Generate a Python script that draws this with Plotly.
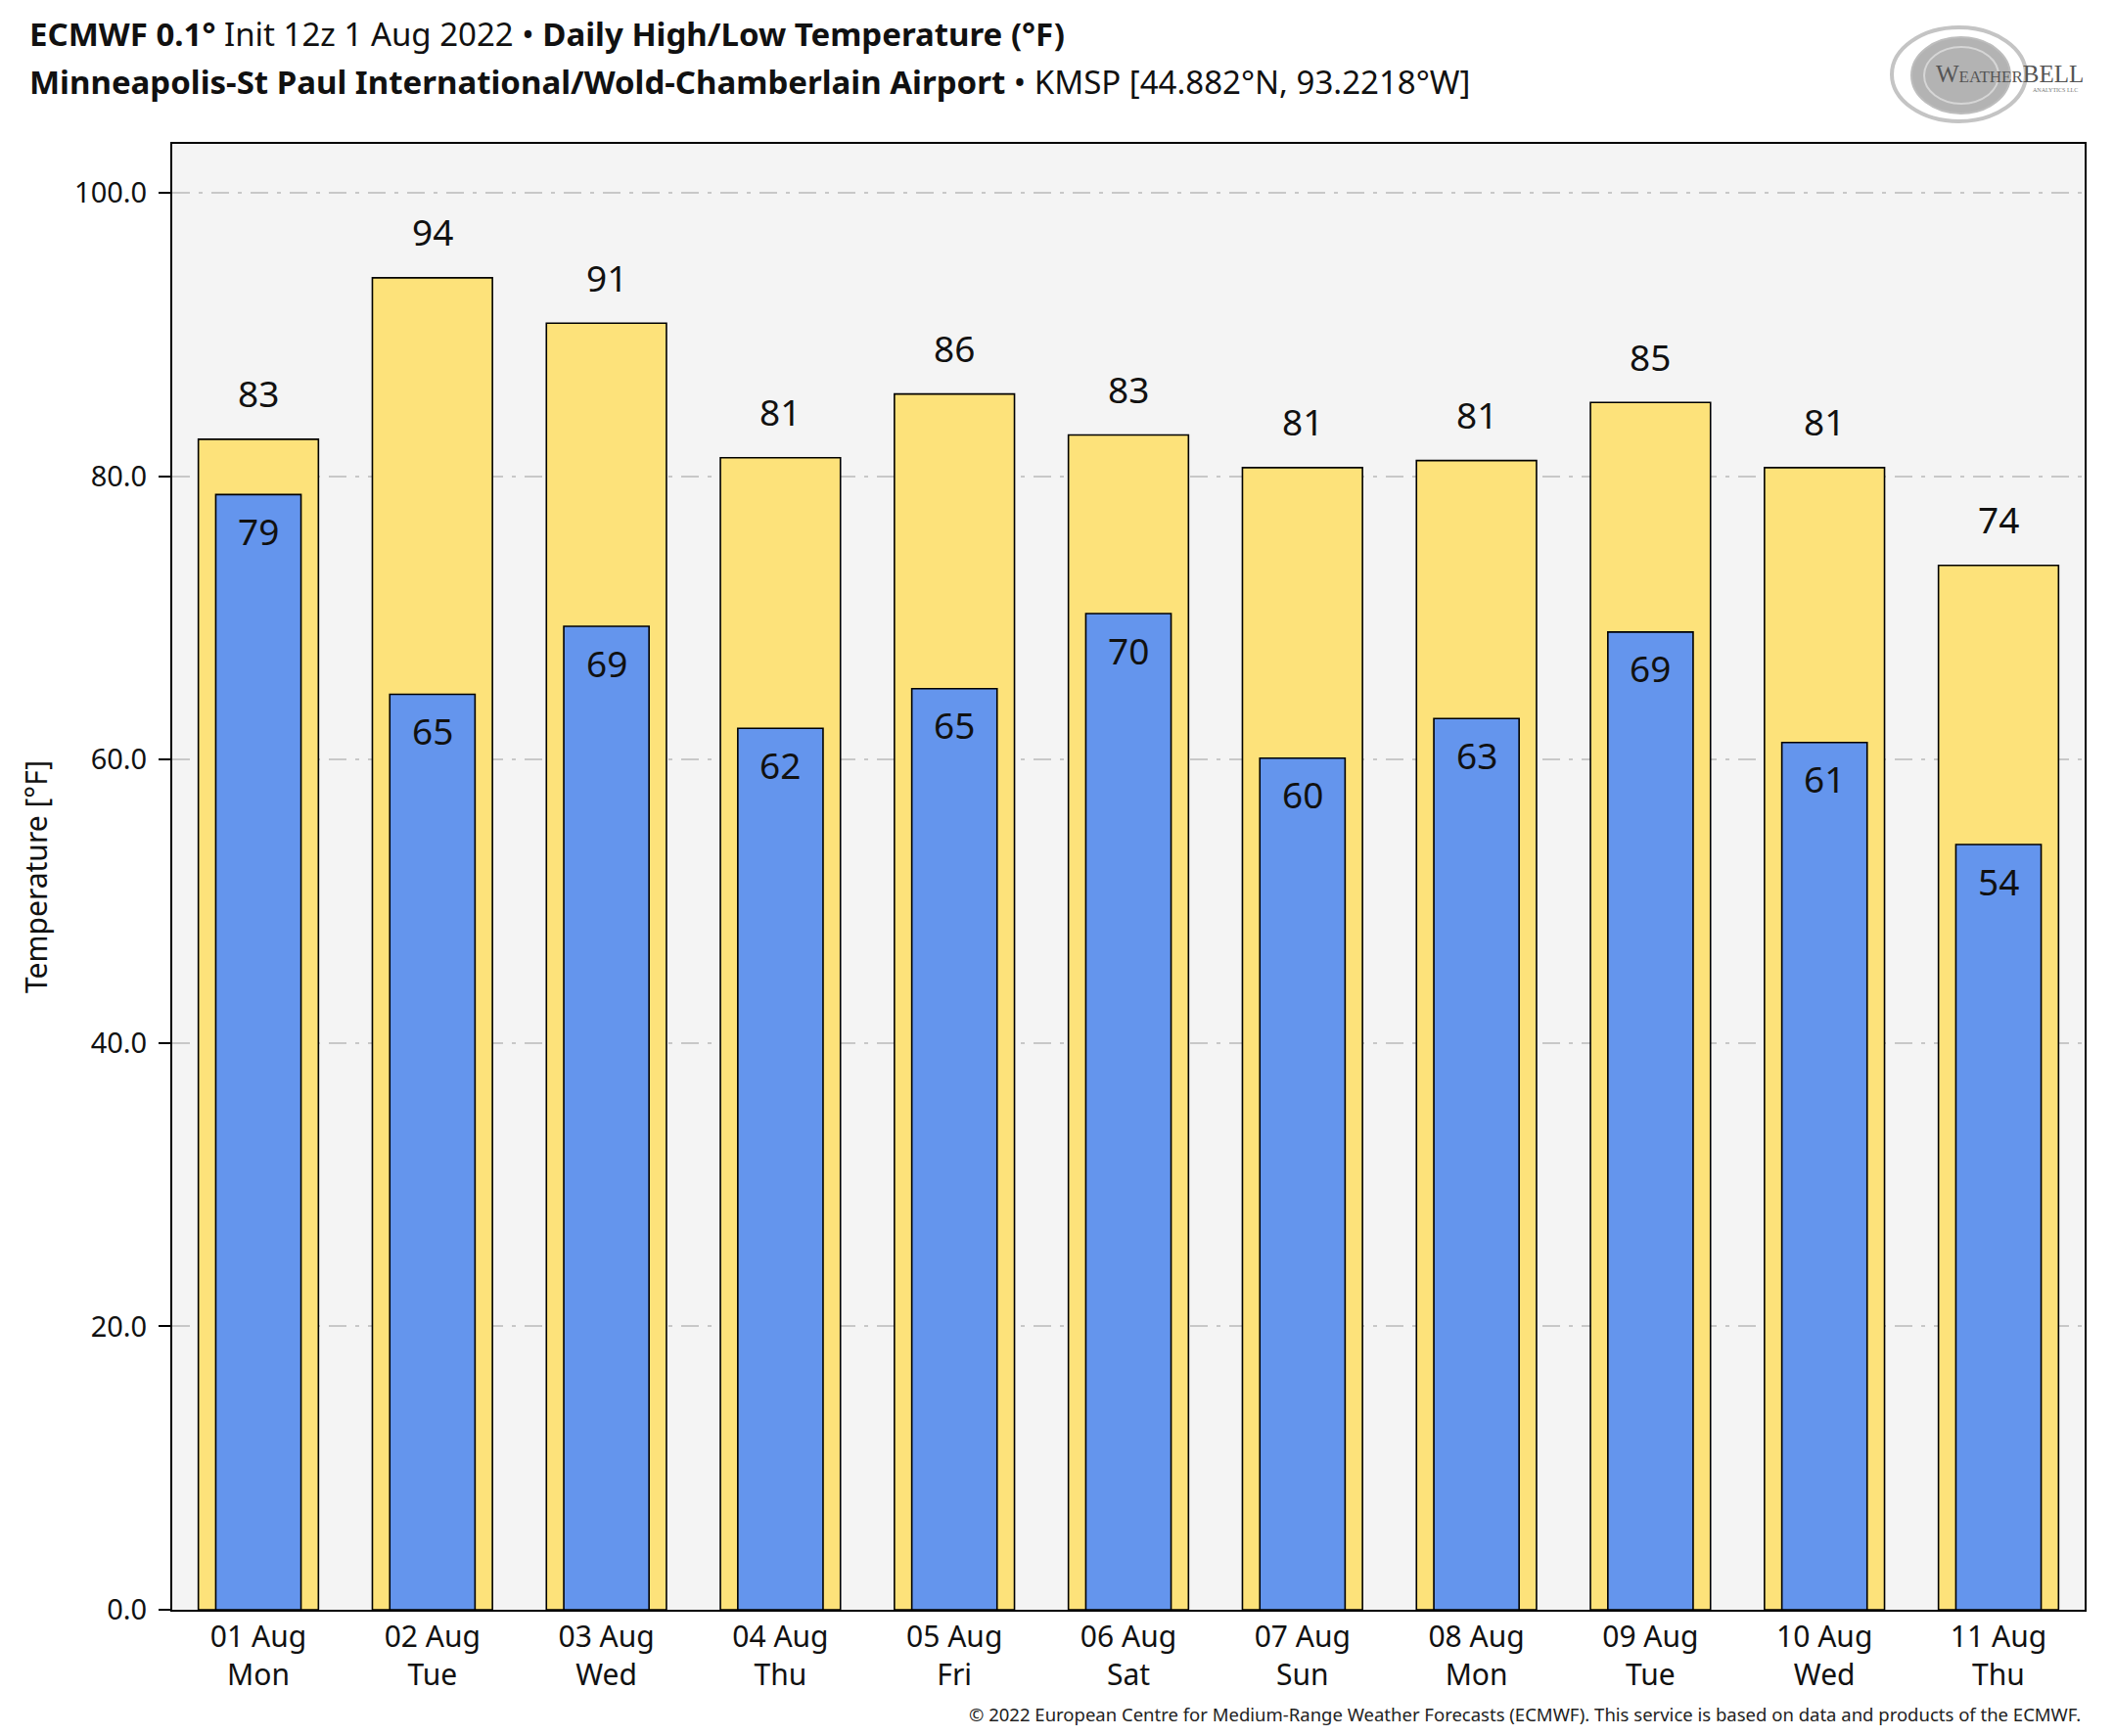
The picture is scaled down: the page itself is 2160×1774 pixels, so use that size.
import plotly.graph_objects as go

# ---- data ----
dates = ["01 Aug", "02 Aug", "03 Aug", "04 Aug", "05 Aug", "06 Aug",
         "07 Aug", "08 Aug", "09 Aug", "10 Aug", "11 Aug"]
weekdays = ["Mon", "Tue", "Wed", "Thu", "Fri", "Sat", "Sun", "Mon", "Tue", "Wed", "Thu"]
high_f = [82.6, 94.0, 90.8, 81.3, 85.8, 82.9, 80.6, 81.1, 85.2, 80.6, 73.7]
low_f = [78.7, 64.6, 69.4, 62.2, 65.0, 70.3, 60.1, 62.9, 69.0, 61.2, 54.0]
y_ticks = [0, 20, 40, 60, 80, 100]

# ---- layout geometry (pixels) ----
W, H = 2160, 1774
L, R, T, B = 168, 38, 139, 137
PW, PH = W - L - R, H - T - B


def px(x):
    return (x - L) / PW


def py(y):
    return (H - B - y) / PH


FONT = "Noto Sans"
YELLOW = "#FDE27A"
BLUE = "#6495ED"

xs = list(range(len(dates)))
ticktext = [f"{d}<br>{w}" for d, w in zip(dates, weekdays)]

fig = go.Figure()
fig.add_trace(go.Bar(
    x=xs, y=high_f, width=0.69, marker=dict(color=YELLOW, line=dict(color="black", width=1.6)),
    name="High", hoverinfo="skip"))
fig.add_trace(go.Bar(
    x=xs, y=low_f, width=0.49, marker=dict(color=BLUE, line=dict(color="black", width=1.6)),
    name="Low", hoverinfo="skip"))

annotations = []
for x, h, l in zip(xs, high_f, low_f):
    annotations.append(dict(x=x, y=h, xref="x", yref="y", text=f"{h:.0f}", showarrow=False,
                            yanchor="middle", yshift=47, font=dict(family=FONT, size=37, color="#111")))
    annotations.append(dict(x=x, y=l, xref="x", yref="y", text=f"{l:.0f}", showarrow=False,
                            yanchor="middle", yshift=-37, font=dict(family=FONT, size=37, color="#111")))

# titles
annotations.append(dict(
    x=px(20), y=py(27), xref="paper", yref="paper", xanchor="left", yanchor="middle", showarrow=False,
    text="<b>ECMWF 0.1°</b> Init 12z 1 Aug 2022 • <b>Daily High/Low Temperature (°F)</b>",
    font=dict(family=FONT, size=33, color="#111")))
annotations.append(dict(
    x=px(20), y=py(76), xref="paper", yref="paper", xanchor="left", yanchor="middle", showarrow=False,
    text="<b>Minneapolis-St Paul International/Wold-Chamberlain Airport</b> • KMSP [44.882°N, 93.2218°W]",
    font=dict(family=FONT, size=33, color="#111")))
# y axis title
annotations.append(dict(
    x=px(28), y=0.5, xref="paper", yref="paper", xanchor="center", yanchor="middle", showarrow=False,
    textangle=-90, text="Temperature [°F]", font=dict(family=FONT, size=30, color="#111")))
# footer
annotations.append(dict(
    x=px(2120), y=py(1743), xref="paper", yref="paper", xanchor="right", yanchor="middle", showarrow=False,
    text="© 2022 European Centre for Medium-Range Weather Forecasts (ECMWF). This service is based on data and products of the ECMWF.",
    font=dict(family=FONT, size=18.5, color="#222")))
# logo text
annotations.append(dict(
    x=px(2045), y=py(67), xref="paper", yref="paper", xanchor="center", yanchor="middle", showarrow=False,
    text="W<span style='font-size:17px'>EATHER</span>BELL",
    font=dict(family="Liberation Serif", size=25, color="#555")))
annotations.append(dict(
    x=px(2092), y=py(84), xref="paper", yref="paper", xanchor="center", yanchor="middle", showarrow=False,
    text="ANALYTICS LLC", font=dict(family="Liberation Serif", size=6, color="#777")))

shapes = [
    dict(type="circle", xref="paper", yref="paper", x0=px(1925), x1=px(2062), y0=py(116), y1=py(20),
         line=dict(color="#c4c4c4", width=4), fillcolor="rgba(0,0,0,0)", layer="above"),
    dict(type="circle", xref="paper", yref="paper", x0=px(1945), x1=px(2046), y0=py(108), y1=py(30),
         line=dict(color="#bdbdbd", width=2), fillcolor="#b3b3b3", layer="below"),
    dict(type="circle", xref="paper", yref="paper", x0=px(1958), x1=px(2034), y0=py(98), y1=py(40),
         line=dict(color="#d6d6d6", width=2), fillcolor="rgba(0,0,0,0)", layer="below"),
]

fig.update_layout(
    width=W, height=H,
    margin=dict(l=L, r=R, t=T, b=B),
    barmode="overlay",
    paper_bgcolor="white",
    plot_bgcolor="#F4F4F4",
    showlegend=False,
    font=dict(family=FONT, color="#111"),
    annotations=annotations,
    shapes=shapes,
    xaxis=dict(
        range=[-0.495, 10.495], tickmode="array", tickvals=xs, ticktext=ticktext,
        tickfont=dict(family=FONT, size=30, color="#111"),
        showgrid=False, zeroline=False, ticks="",
        showline=True, linecolor="black", linewidth=2, mirror=True,
    ),
    yaxis=dict(
        range=[0, 103.45], tickmode="array", tickvals=y_ticks, tickformat=".1f",
        tickfont=dict(family=FONT, size=29, color="#111"),
        ticks="outside", ticklen=12, tickwidth=2, tickcolor="black", ticklabelstandoff=6,
        showgrid=True, gridcolor="#C8C8C8", gridwidth=2, griddash="18px,9px,4px,9px",
        zeroline=False, showline=True, linecolor="black", linewidth=2, mirror=True,
    ),
)

fig.write_html("out.html")
